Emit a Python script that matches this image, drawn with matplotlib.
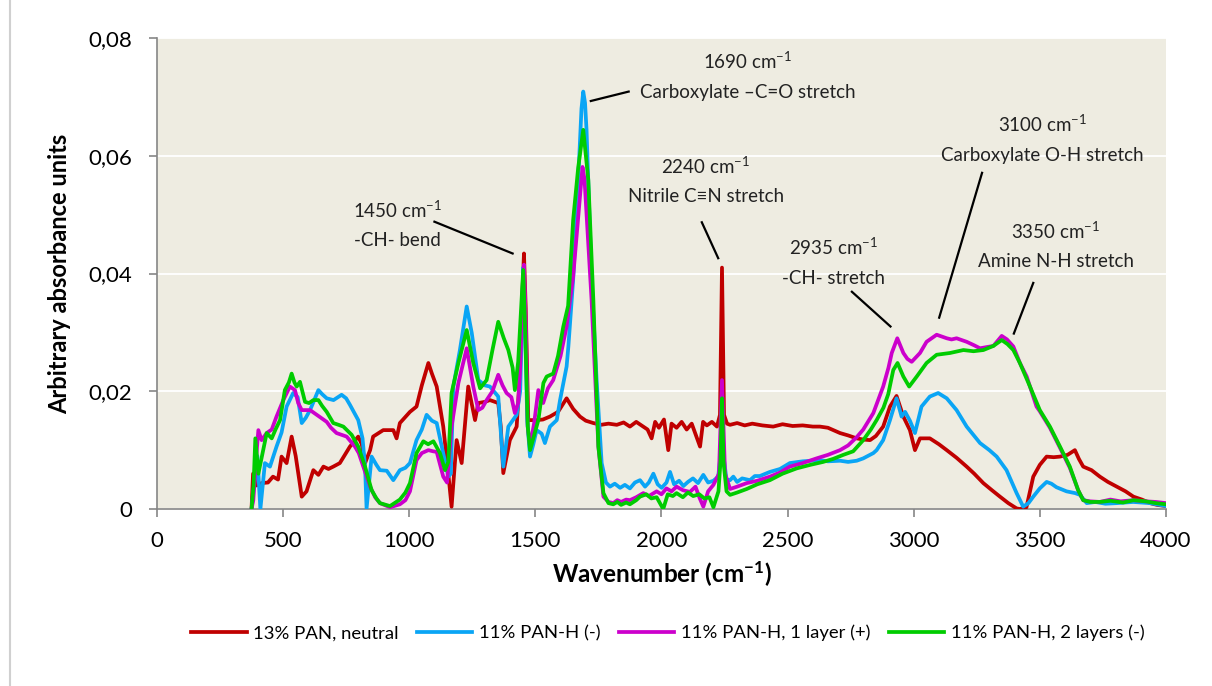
import matplotlib
matplotlib.use("Agg")
import matplotlib.pyplot as plt
from matplotlib.lines import Line2D

plt.rcParams['font.family'] = ['Lato', 'DejaVu Sans']
plt.rcParams['mathtext.fontset'] = 'custom'
plt.rcParams['mathtext.rm'] = 'Lato'
plt.rcParams['mathtext.bf'] = 'Lato:bold'
plt.rcParams['mathtext.it'] = 'Lato:italic'

# ---------------- data (wavenumber cm-1, absorbance) ----------------
series_labels = ["13% PAN, neutral", "11% PAN-H (-)", "11% PAN-H, 1 layer (+)", "11% PAN-H, 2 layers (-)"]

red_points = [
    (375, 0.000), (381, 0.006), (395, 0.004), (415, 0.0044), (440, 0.0045), (460, 0.0055), (480, 0.005),
    (494, 0.0089), (514, 0.0078), (534, 0.0123), (550, 0.009), (574, 0.0021), (593, 0.003), (620, 0.0066),
    (640, 0.0058), (660, 0.0072), (680, 0.0068), (699, 0.0072), (725, 0.0078), (745, 0.0092), (765, 0.0106),
    (798, 0.0123), (812, 0.011), (825, 0.0078), (845, 0.010), (857, 0.0123), (897, 0.0134), (937, 0.0134),
    (950, 0.012), (963, 0.0146), (1003, 0.0165), (1029, 0.0174), (1050, 0.021), (1076, 0.0248), (1090, 0.023),
    (1109, 0.0208), (1135, 0.014), (1155, 0.006), (1168, 0.0004), (1188, 0.0117), (1208, 0.0078), (1234, 0.0208),
    (1261, 0.0151), (1274, 0.018), (1300, 0.0182), (1320, 0.0185), (1353, 0.018), (1363, 0.014), (1373, 0.0061),
    (1399, 0.0117), (1426, 0.014), (1439, 0.023), (1448, 0.036), (1455, 0.0434), (1462, 0.034), (1472, 0.0151),
    (1505, 0.0151), (1530, 0.0152), (1558, 0.0157), (1590, 0.0165), (1624, 0.0188), (1650, 0.017), (1677, 0.0157),
    (1700, 0.015), (1730, 0.0146), (1760, 0.0143), (1790, 0.0145), (1823, 0.0143), (1850, 0.0147), (1875, 0.014),
    (1900, 0.0148), (1928, 0.014), (1945, 0.0135), (1961, 0.012), (1975, 0.0148), (1990, 0.0138), (2010, 0.0152),
    (2027, 0.010), (2040, 0.0145), (2060, 0.0138), (2080, 0.0148), (2100, 0.0135), (2120, 0.0145), (2153, 0.0106),
    (2165, 0.0148), (2180, 0.0142), (2200, 0.0148), (2220, 0.014), (2232, 0.016), (2240, 0.041), (2248, 0.016),
    (2260, 0.0145), (2272, 0.0143), (2300, 0.0146), (2330, 0.0142), (2360, 0.0145), (2400, 0.0142), (2443, 0.014),
    (2480, 0.0144), (2520, 0.0141), (2560, 0.0142), (2600, 0.014), (2628, 0.014), (2660, 0.0138), (2708, 0.0129),
    (2740, 0.0125), (2774, 0.012), (2800, 0.0118), (2827, 0.0117), (2850, 0.0124), (2879, 0.014), (2906, 0.0174),
    (2932, 0.0192), (2945, 0.0175), (2959, 0.0157), (2985, 0.0134), (3005, 0.010), (3025, 0.012), (3064, 0.012),
    (3100, 0.011), (3131, 0.010), (3170, 0.0087), (3210, 0.0072), (3240, 0.006), (3276, 0.0044), (3310, 0.0032),
    (3342, 0.0021), (3375, 0.001), (3408, 0.0001), (3421, 0.0), (3447, 0.0003), (3474, 0.0055), (3500, 0.0075),
    (3527, 0.0089), (3555, 0.0088), (3580, 0.0089), (3610, 0.0092), (3639, 0.010), (3655, 0.0085), (3672, 0.0072),
    (3705, 0.0066), (3738, 0.0055), (3770, 0.0046), (3805, 0.0038), (3840, 0.003), (3871, 0.0021), (3905, 0.0016),
    (3937, 0.001), (3965, 0.0007), (4000, 0.0005),
]

blue_points = [
    (375, 0.0), (385, 0.004), (398, 0.009), (410, 0.0), (428, 0.0078), (448, 0.0072), (474, 0.0106), (494, 0.013),
    (514, 0.0174), (540, 0.0197), (558, 0.019), (574, 0.0146), (590, 0.0155), (607, 0.0168), (640, 0.0202),
    (655, 0.0195), (673, 0.0188), (700, 0.0185), (732, 0.0194), (750, 0.0188), (765, 0.0177), (798, 0.0151),
    (815, 0.012), (825, 0.0072), (831, 0.0001), (840, 0.004), (851, 0.0089), (870, 0.0075), (884, 0.0066),
    (911, 0.0065), (937, 0.0049), (963, 0.0066), (985, 0.007), (1003, 0.0078), (1029, 0.0117), (1050, 0.0135),
    (1069, 0.016), (1090, 0.015), (1109, 0.0146), (1135, 0.0095), (1155, 0.0055), (1165, 0.006), (1175, 0.0208),
    (1201, 0.027), (1228, 0.0344), (1248, 0.0299), (1274, 0.0219), (1300, 0.021), (1320, 0.0208), (1353, 0.0191),
    (1365, 0.012), (1373, 0.0072), (1393, 0.014), (1426, 0.016), (1440, 0.02), (1446, 0.03), (1452, 0.041),
    (1460, 0.03), (1468, 0.015), (1479, 0.0089), (1492, 0.011), (1505, 0.0134), (1525, 0.0128), (1538, 0.0112),
    (1558, 0.014), (1585, 0.0151), (1598, 0.0185), (1624, 0.0242), (1631, 0.0276), (1650, 0.039), (1670, 0.0559),
    (1683, 0.068), (1690, 0.0709), (1697, 0.069), (1703, 0.0644), (1723, 0.039), (1743, 0.0219), (1763, 0.0078),
    (1780, 0.0045), (1796, 0.0038), (1815, 0.0043), (1836, 0.0036), (1855, 0.0041), (1875, 0.0035),
    (1895, 0.0045), (1915, 0.0049), (1935, 0.0038), (1950, 0.0045), (1968, 0.006), (1985, 0.0042), (2001, 0.0036),
    (2020, 0.0045), (2034, 0.0063), (2050, 0.0042), (2070, 0.0048), (2087, 0.0039), (2105, 0.0046), (2125, 0.0052),
    (2145, 0.0044), (2166, 0.0058), (2185, 0.0045), (2206, 0.0048), (2225, 0.0055), (2234, 0.009), (2240, 0.013),
    (2246, 0.009), (2258, 0.005), (2272, 0.0049), (2285, 0.0055), (2300, 0.0046), (2320, 0.0052), (2351, 0.0049),
    (2370, 0.0056), (2390, 0.0056), (2430, 0.0063), (2470, 0.0068), (2509, 0.0078), (2560, 0.0081), (2628, 0.0083),
    (2660, 0.0081), (2708, 0.0082), (2740, 0.008), (2774, 0.0082), (2800, 0.0086), (2840, 0.0095), (2853, 0.010),
    (2879, 0.0117), (2906, 0.0151), (2932, 0.0188), (2952, 0.0157), (2966, 0.0165), (2985, 0.015), (3005, 0.0129),
    (3031, 0.0174), (3064, 0.0191), (3097, 0.0197), (3131, 0.0188), (3170, 0.0168), (3210, 0.014), (3263, 0.0112),
    (3300, 0.010), (3329, 0.0089), (3368, 0.0066), (3408, 0.0027), (3434, 0.0004), (3455, 0.001), (3474, 0.0021),
    (3500, 0.0035), (3527, 0.0046), (3546, 0.0043), (3566, 0.0037), (3606, 0.003), (3640, 0.0027), (3659, 0.0024),
    (3686, 0.001), (3720, 0.0012), (3760, 0.0009), (3805, 0.001), (3870, 0.0012), (3937, 0.001), (4000, 0.0005),
]

magenta_points = [
    (375, 0.0), (382, 0.0015), (392, 0.008), (402, 0.0134), (415, 0.0117), (435, 0.0129), (455, 0.0135),
    (474, 0.0157), (501, 0.0185), (527, 0.0208), (547, 0.0202), (560, 0.018), (574, 0.0168), (607, 0.0168),
    (633, 0.016), (650, 0.0155), (673, 0.0148), (690, 0.0138), (712, 0.0129), (752, 0.0123), (785, 0.0106),
    (800, 0.0095), (818, 0.0072), (845, 0.0038), (865, 0.002), (884, 0.001), (924, 0.0003), (963, 0.0008),
    (985, 0.0015), (1003, 0.003), (1029, 0.0083), (1050, 0.0095), (1076, 0.010), (1095, 0.0098), (1109, 0.0097),
    (1135, 0.0055), (1150, 0.0045), (1168, 0.014), (1195, 0.0214), (1228, 0.0273), (1254, 0.0208), (1274, 0.0168),
    (1290, 0.0172), (1307, 0.0185), (1330, 0.020), (1353, 0.0228), (1370, 0.021), (1386, 0.0197), (1405, 0.019),
    (1419, 0.0163), (1432, 0.018), (1439, 0.023), (1448, 0.034), (1455, 0.0415), (1462, 0.032), (1470, 0.014),
    (1479, 0.0106), (1495, 0.0145), (1512, 0.0202), (1531, 0.018), (1550, 0.0205), (1571, 0.0219), (1600, 0.026),
    (1624, 0.031), (1650, 0.0395), (1677, 0.053), (1687, 0.0581), (1695, 0.056), (1703, 0.0502), (1723, 0.0355),
    (1750, 0.0106), (1770, 0.0021), (1790, 0.0012), (1809, 0.001), (1825, 0.0015), (1840, 0.0012), (1860, 0.0016),
    (1875, 0.0015), (1900, 0.002), (1928, 0.0027), (1950, 0.0022), (1981, 0.003), (2000, 0.0025), (2020, 0.0035),
    (2040, 0.003), (2060, 0.0038), (2085, 0.0032), (2113, 0.0029), (2135, 0.0038), (2150, 0.002), (2166, 0.0004),
    (2185, 0.003), (2206, 0.0041), (2228, 0.006), (2240, 0.0219), (2252, 0.006), (2272, 0.0034), (2300, 0.0038),
    (2338, 0.0044), (2380, 0.0048), (2430, 0.0055), (2470, 0.0062), (2509, 0.0072), (2560, 0.0078), (2615, 0.0086),
    (2660, 0.0092), (2708, 0.010), (2740, 0.0108), (2774, 0.0122), (2800, 0.0135), (2840, 0.0163), (2879, 0.0208),
    (2900, 0.024), (2913, 0.0265), (2935, 0.029), (2959, 0.0265), (2975, 0.0255), (2992, 0.025), (3025, 0.0265),
    (3051, 0.0284), (3091, 0.0296), (3131, 0.029), (3150, 0.0288), (3170, 0.029), (3210, 0.0284), (3240, 0.0278),
    (3263, 0.0273), (3290, 0.0275), (3316, 0.0277), (3349, 0.0294), (3370, 0.0288), (3395, 0.0276), (3421, 0.0248),
    (3448, 0.0225), (3461, 0.0208), (3487, 0.0174), (3500, 0.0166), (3540, 0.0138), (3580, 0.0104), (3619, 0.007),
    (3652, 0.0032), (3672, 0.0015), (3700, 0.0013), (3738, 0.0012), (3780, 0.0016), (3820, 0.0013), (3871, 0.0015),
    (3920, 0.0013), (3960, 0.0012), (4000, 0.001),
]

green_points = [
    (375, 0.0), (383, 0.004), (390, 0.012), (402, 0.006), (421, 0.010), (435, 0.0129), (455, 0.012), (470, 0.0135),
    (488, 0.0151), (507, 0.0202), (523, 0.0215), (534, 0.023), (545, 0.0215), (554, 0.0208), (567, 0.0216),
    (587, 0.0182), (603, 0.018), (620, 0.0185), (640, 0.0185), (655, 0.0175), (673, 0.0165), (699, 0.0146),
    (720, 0.0143), (739, 0.014), (772, 0.0126), (798, 0.0106), (825, 0.0072), (851, 0.0032), (870, 0.0018),
    (884, 0.001), (924, 0.0005), (963, 0.0016), (985, 0.0028), (1003, 0.0044), (1029, 0.0095), (1056, 0.0115),
    (1075, 0.011), (1096, 0.0115), (1122, 0.0095), (1142, 0.0066), (1155, 0.008), (1168, 0.0197), (1195, 0.0248),
    (1228, 0.0304), (1254, 0.0248), (1281, 0.0205), (1307, 0.0219), (1330, 0.027), (1353, 0.0318), (1375, 0.029),
    (1393, 0.027), (1410, 0.024), (1419, 0.0202), (1432, 0.025), (1445, 0.035), (1452, 0.0406), (1460, 0.03),
    (1470, 0.014), (1479, 0.010), (1492, 0.012), (1512, 0.0151), (1532, 0.0214), (1545, 0.0225), (1571, 0.023),
    (1590, 0.026), (1611, 0.031), (1630, 0.0345), (1650, 0.0491), (1670, 0.058), (1690, 0.0644), (1710, 0.0559),
    (1730, 0.0355), (1750, 0.0106), (1770, 0.0027), (1790, 0.001), (1809, 0.0008), (1825, 0.0012), (1840, 0.0007),
    (1860, 0.0011), (1875, 0.0008), (1900, 0.0015), (1915, 0.0021), (1940, 0.0025), (1960, 0.0018), (1981, 0.002),
    (2007, 0.0), (2025, 0.0025), (2045, 0.0022), (2060, 0.0027), (2085, 0.002), (2105, 0.0028), (2126, 0.0022),
    (2150, 0.0025), (2170, 0.0018), (2190, 0.002), (2206, 0.0003), (2226, 0.003), (2234, 0.008), (2240, 0.0188),
    (2246, 0.008), (2258, 0.003), (2272, 0.0024), (2300, 0.0028), (2338, 0.0034), (2380, 0.0042), (2430, 0.0049),
    (2480, 0.006), (2536, 0.0069), (2590, 0.0075), (2641, 0.008), (2680, 0.0085), (2721, 0.0092), (2760, 0.0098),
    (2800, 0.0117), (2830, 0.0135), (2853, 0.0151), (2880, 0.0172), (2899, 0.0195), (2919, 0.0236), (2936, 0.0248),
    (2959, 0.0225), (2982, 0.0208), (3012, 0.0225), (3051, 0.0248), (3091, 0.0262), (3144, 0.0265), (3197, 0.027),
    (3237, 0.0268), (3276, 0.027), (3316, 0.0277), (3349, 0.0287), (3372, 0.028), (3395, 0.027), (3421, 0.0248),
    (3461, 0.0208), (3500, 0.0168), (3540, 0.014), (3580, 0.0106), (3619, 0.0072), (3652, 0.0032), (3672, 0.0015),
    (3700, 0.0012), (3738, 0.0012), (3780, 0.0014), (3830, 0.0011), (3871, 0.0015), (3920, 0.0013), (3960, 0.001),
    (4000, 0.0008),
]

x_ticks = [0, 500, 1000, 1500, 2000, 2500, 3000, 3500, 4000]
y_ticks = [0, 0.02, 0.04, 0.06, 0.08]
y_tick_labels = ["0", "0,02", "0,04", "0,06", "0,08"]

# annotations: (peak wavenumber label, description, text x, text y, line start, line end)
annotations = [
    ("1450", "-CH- bend", 955, 0.0508, (1100, 0.0488), (1410, 0.0434)),
    ("1690", "Carboxylate \u2013C=O stretch", 2343, 0.0760, (1720, 0.0693), (1870, 0.0709)),
    ("2240", "Nitrile C\u2261N stretch", 2175, 0.0583, (2160, 0.0487), (2225, 0.0426)),
    ("2935", "-CH- stretch", 2684, 0.0444, (2755, 0.0369), (2908, 0.0310)),
    ("3100", "Carboxylate O-H stretch", 3511, 0.0653, (3271, 0.0571), (3101, 0.0325)),
    ("3350", "Amine N-H stretch", 3564, 0.0472, (3474, 0.0384), (3397, 0.0298)),
]

colors = ["#C00000", "#0AA5F5", "#CC00CC", "#00CC00"]

fig = plt.figure(figsize=(12.12, 6.86), dpi=100)
ax = fig.add_axes([0.1295, 0.258, 0.8325, 0.6866])
ax.set_facecolor("#EEECE1")

for pts, col, lab in zip([red_points, blue_points, magenta_points, green_points], colors, series_labels):
    xs = [p[0] for p in pts]
    ys = [p[1] for p in pts]
    ax.plot(xs, ys, color=col, lw=2.7, label=lab, solid_joinstyle='round', zorder=3)

ax.set_xlim(0, 4000)
ax.set_ylim(0, 0.08)
ax.set_xticks(x_ticks)
ax.set_xticklabels([str(t) for t in x_ticks])
ax.set_yticks(y_ticks)
ax.set_yticklabels(y_tick_labels)
ax.yaxis.grid(True, color="white", lw=1.3)
ax.set_axisbelow(True)
for s in ["top", "right"]:
    ax.spines[s].set_visible(False)
for s in ["left", "bottom"]:
    ax.spines[s].set_color("#868686")
    ax.spines[s].set_linewidth(1.2)
ax.tick_params(axis="both", colors="#868686", labelcolor="black", labelsize=16, length=6, width=1.2)
ax.tick_params(axis="y", pad=12)
ax.tick_params(axis="x", pad=10)

ax.set_xlabel(r"Wavenumber (cm$^{\mathbf{-1}}$)", fontsize=17.5, fontweight="bold", labelpad=6)
ax.set_ylabel("Arbitrary absorbance units", fontsize=17, fontweight="bold", labelpad=12)

for num, desc, tx, ty, p0, p1 in annotations:
    ax.text(tx, ty, num + r" cm$^{-1}$", ha="center", va="center", fontsize=13.5, color="#222222")
    ax.text(tx, ty - 0.0052, desc, ha="center", va="center", fontsize=13.5, color="#222222")
    ax.plot([p0[0], p1[0]], [p0[1], p1[1]], color="black", lw=1.6, zorder=4)

fig.legend(loc="center", bbox_to_anchor=(0.551, 0.077), ncol=4, frameon=False, fontsize=13.3,
           handlelength=3.0, handletextpad=0.35, columnspacing=1.0)

fig.add_artist(Line2D([10 / 1212, 10 / 1212], [0, 1], transform=fig.transFigure, color="#D0D0D0", lw=1.5))

fig.savefig("out.png", dpi=100)
